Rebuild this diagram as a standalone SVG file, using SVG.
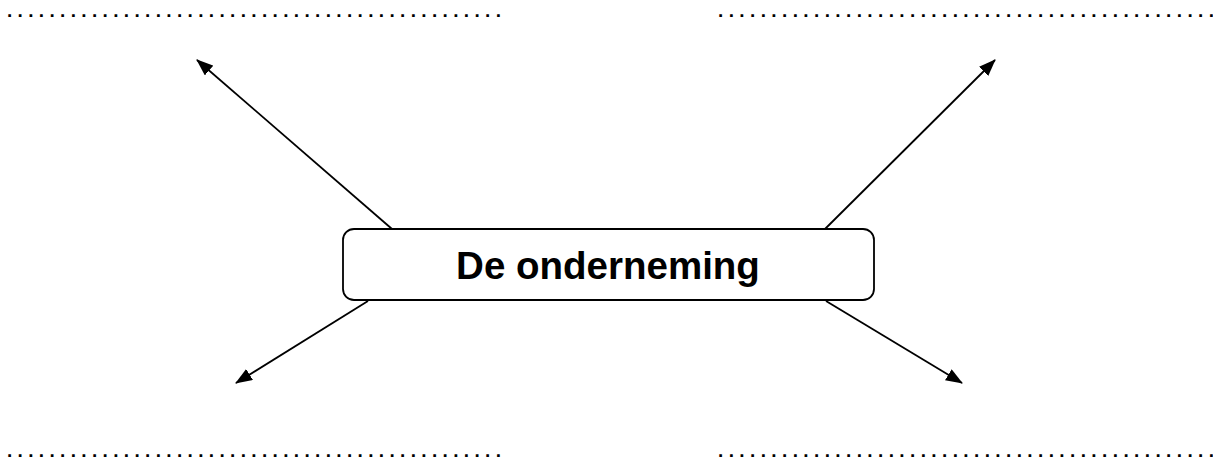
<svg xmlns="http://www.w3.org/2000/svg" width="1213" height="461" viewBox="0 0 1213 461">
<style>
.dots{font-family:"Liberation Sans",Arial,sans-serif;font-size:19px;font-weight:bold;fill:#000}
.conn{stroke:#000;stroke-width:1.8;fill:none;marker-end:url(#ah)}
.box{fill:#fff;stroke:#000;stroke-width:1.8}
.lbl{font-family:"Liberation Sans",Arial,sans-serif;font-size:38.5px;font-weight:bold;fill:#000;text-anchor:middle}
</style>
<defs>
<marker id="ah" markerWidth="17" markerHeight="13" refX="16" refY="6.5" orient="auto" markerUnits="userSpaceOnUse">
<path d="M0,0 L17,6.5 L0,13 Z" fill="#000"/>
</marker>
</defs>
<rect width="1213" height="461" fill="#fff"/>
<g id="blanks">
<text class="dots" x="7" y="17.3" textLength="494" lengthAdjust="spacing">...............................................</text>
<text class="dots" x="718" y="17.3" textLength="496" lengthAdjust="spacing">...............................................</text>
<text class="dots" x="7" y="457.3" textLength="494" lengthAdjust="spacing">...............................................</text>
<text class="dots" x="718" y="457.3" textLength="496" lengthAdjust="spacing">...............................................</text>
</g>
<g id="connectors">
<line class="conn" x1="392" y1="229" x2="197" y2="60"/>
<line class="conn" x1="825" y1="229" x2="995" y2="60"/>
<line class="conn" x1="368" y1="301" x2="236" y2="383"/>
<line class="conn" x1="826" y1="301" x2="962" y2="383"/>
</g>
<g id="node-onderneming">
<rect class="box" x="343" y="229" width="531" height="71" rx="11" ry="11"/>
<text class="lbl" x="608" y="279">De onderneming</text>
</g>
</svg>
